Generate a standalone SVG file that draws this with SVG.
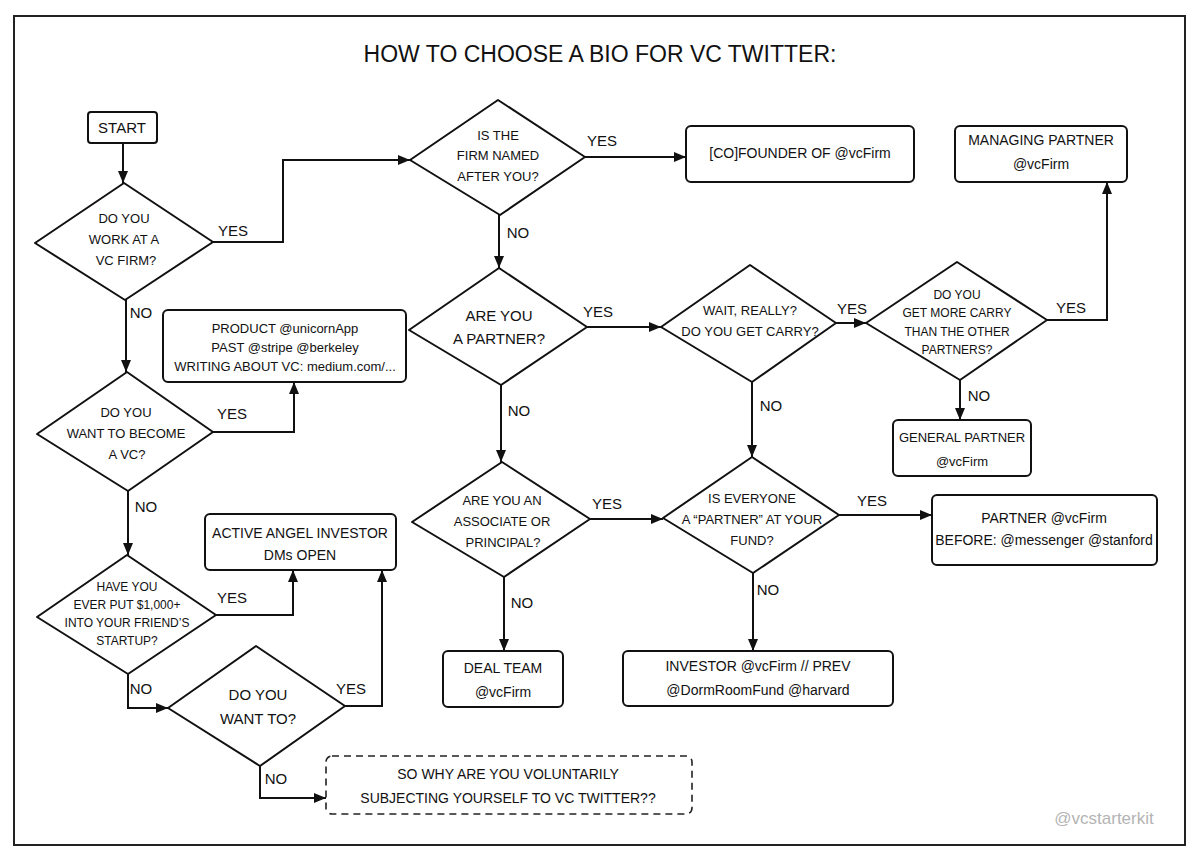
<svg xmlns="http://www.w3.org/2000/svg" width="1200" height="862" viewBox="0 0 1200 862">
<defs>
<marker id="arr" markerUnits="userSpaceOnUse" markerWidth="12" markerHeight="10" refX="12" refY="5" orient="auto">
<path d="M0,0 L12,5 L0,10 z" fill="#111"/>
</marker>
<style>
.sh{fill:#fff;stroke:#111;stroke-width:2;stroke-linejoin:round}
.dash{fill:#fff;stroke:#222;stroke-width:1.6;stroke-dasharray:7 5}
.t{font-family:"Liberation Sans",Arial,sans-serif;fill:#111;text-anchor:middle;dominant-baseline:central}
.d{font-size:13px}
.b{font-size:14px}
.l{font-size:15px}
.c{fill:none;stroke:#111;stroke-width:2;marker-end:url(#arr)}
</style>
</defs>
<rect width="1200" height="862" fill="#fff"/>
<rect x="14" y="16" width="1171" height="829" fill="none" stroke="#222" stroke-width="2"/>
<text class="t" x="600" y="54" style="font-size:23px">HOW TO CHOOSE A BIO FOR VC TWITTER:</text>

<g id="start"><rect class="sh" x="88" y="112" width="69" height="31" rx="3"/><text class="t l" x="122" y="127">START</text></g>

<g id="d1"><polygon class="sh" points="124,183 213,242 125,300 35,243"/>
<text class="t d" x="124" y="218">DO YOU</text><text class="t d" x="124" y="239">WORK AT A</text><text class="t d" x="126" y="260">VC FIRM?</text></g>

<g id="d2"><polygon class="sh" points="498,100 585,157 500,215 410,160"/>
<text class="t d" x="498" y="135">IS THE</text><text class="t d" x="498" y="155">FIRM NAMED</text><text class="t d" x="498" y="176">AFTER YOU?</text></g>

<g id="cofounder"><rect class="sh" x="686" y="126" width="228" height="56" rx="5"/><text class="t b" x="800" y="153">[CO]FOUNDER OF @vcFirm</text></g>

<g id="managing"><rect class="sh" x="955" y="126" width="172" height="56" rx="5"/><text class="t b" x="1041" y="140">MANAGING PARTNER</text><text class="t b" x="1041" y="164">@vcFirm</text></g>

<g id="d3"><polygon class="sh" points="499,268 587,327 501,385 409,330"/>
<text class="t" style="font-size:15px" x="499" y="315">ARE YOU</text><text class="t" style="font-size:15px" x="499" y="338">A PARTNER?</text></g>

<g id="d4"><polygon class="sh" points="750,265 836,323 752,382 661,327"/>
<text class="t d" x="750" y="310">WAIT, REALLY?</text><text class="t d" x="750" y="331">DO YOU GET CARRY?</text></g>

<g id="d5"><polygon class="sh" points="957,262 1047,320 960,380 866,323"/>
<text class="t" style="font-size:12px" x="957" y="295">DO YOU</text><text class="t" style="font-size:12px" x="957" y="313">GET MORE CARRY</text><text class="t" style="font-size:12px" x="957" y="332">THAN THE OTHER</text><text class="t" style="font-size:12px" x="957" y="350">PARTNERS?</text></g>

<g id="general"><rect class="sh" x="893" y="420" width="138" height="56" rx="5"/><text class="t d" x="962" y="437">GENERAL PARTNER</text><text class="t d" x="962" y="461">@vcFirm</text></g>

<g id="product"><rect class="sh" x="163" y="310" width="243" height="72" rx="5"/>
<text class="t" style="font-size:13px" x="285" y="328">PRODUCT @unicornApp</text><text class="t" style="font-size:13px" x="285" y="347">PAST @stripe @berkeley</text><text class="t" style="font-size:13px" x="285" y="366">WRITING ABOUT VC: medium.com/...</text></g>

<g id="d8"><polygon class="sh" points="127,372 213,432 128,491 37,434"/>
<text class="t d" x="126" y="412">DO YOU</text><text class="t d" x="126" y="433">WANT TO BECOME</text><text class="t d" x="127" y="454">A VC?</text></g>

<g id="d7"><polygon class="sh" points="502,462 590,519 504,577 412,522"/>
<text class="t d" x="502" y="500">ARE YOU AN</text><text class="t d" x="502" y="521">ASSOCIATE OR</text><text class="t d" x="503" y="542">PRINCIPAL?</text></g>

<g id="d6"><polygon class="sh" points="752,457 839,515 753,573 663,518"/>
<text class="t d" x="752" y="498">IS EVERYONE</text><text class="t d" x="752" y="519">A “PARTNER” AT YOUR</text><text class="t d" x="752" y="540">FUND?</text></g>

<g id="partner"><rect class="sh" x="932" y="495" width="225" height="70" rx="5"/><text class="t b" x="1044" y="518">PARTNER @vcFirm</text><text class="t b" x="1044" y="540">BEFORE: @messenger @stanford</text></g>

<g id="angel"><rect class="sh" x="205" y="514" width="191" height="56" rx="5"/><text class="t b" x="300" y="533">ACTIVE ANGEL INVESTOR</text><text class="t b" x="300" y="555">DMs OPEN</text></g>

<g id="d9"><polygon class="sh" points="127,555 216,615 128,674 37,617"/>
<text class="t" style="font-size:12px" x="127" y="587">HAVE YOU</text><text class="t" style="font-size:12px" x="127" y="605">EVER PUT $1,000+</text><text class="t" style="font-size:12px" x="127" y="623">INTO YOUR FRIEND’S</text><text class="t" style="font-size:12px" x="127" y="641">STARTUP?</text></g>

<g id="dealteam"><rect class="sh" x="443" y="651" width="120" height="56" rx="5"/><text class="t b" x="503" y="668">DEAL TEAM</text><text class="t b" x="503" y="692">@vcFirm</text></g>

<g id="investor"><rect class="sh" x="623" y="651" width="270" height="55" rx="5"/><text class="t b" x="758" y="666">INVESTOR @vcFirm // PREV</text><text class="t b" x="758" y="690">@DormRoomFund @harvard</text></g>

<g id="d10"><polygon class="sh" points="256,646 345,706 260,766 168,708"/>
<text class="t" style="font-size:15px" x="258" y="694">DO YOU</text><text class="t" style="font-size:15px" x="258" y="718">WANT TO?</text></g>

<g id="sowhy"><rect class="dash" x="326" y="756" width="366" height="58" rx="6"/><text class="t b" x="508" y="774">SO WHY ARE YOU VOLUNTARILY</text><text class="t b" x="508" y="798">SUBJECTING YOURSELF TO VC TWITTER??</text></g>

<g id="connectors">
<path class="c" d="M123,143 V183"/>
<path class="c" d="M213,242 H283 V160 H410"/>
<path class="c" d="M126,300 V372"/>
<path class="c" d="M585,157 H686"/>
<path class="c" d="M499,215 V268"/>
<path class="c" d="M587,327 H661"/>
<path class="c" d="M501,385 V462"/>
<path class="c" d="M836,323 H866"/>
<path class="c" d="M752,382 V457"/>
<path class="c" d="M1047,320 H1107 V182"/>
<path class="c" d="M960,380 V420"/>
<path class="c" d="M839,515 H932"/>
<path class="c" d="M753,573 V651"/>
<path class="c" d="M590,519 H663"/>
<path class="c" d="M504,577 V651"/>
<path class="c" d="M213,432 H294 V382"/>
<path class="c" d="M128,491 V555"/>
<path class="c" d="M216,615 H293 V570"/>
<path class="c" d="M128,674 V708 H168"/>
<path class="c" d="M345,706 H382 V570"/>
<path class="c" d="M260,766 V798 H326"/>
<g>
<text class="t l" x="233" y="230">YES</text><text class="t l" x="141" y="312">NO</text>
<text class="t l" x="602" y="140">YES</text><text class="t l" x="518" y="232">NO</text>
<text class="t l" x="598" y="311">YES</text><text class="t l" x="519" y="410">NO</text>
<text class="t l" x="852" y="308">YES</text><text class="t l" x="771" y="405">NO</text>
<text class="t l" x="1071" y="307">YES</text><text class="t l" x="979" y="395">NO</text>
<text class="t l" x="872" y="500">YES</text><text class="t l" x="768" y="589">NO</text>
<text class="t l" x="607" y="503">YES</text><text class="t l" x="522" y="602">NO</text>
<text class="t l" x="232" y="413">YES</text><text class="t l" x="146" y="506">NO</text>
<text class="t l" x="232" y="597">YES</text><text class="t l" x="141" y="688">NO</text>
<text class="t l" x="351" y="688">YES</text><text class="t l" x="276" y="778">NO</text>
</g>
</g>
<text class="t" x="1104" y="818" style="font-size:17px;fill:#b4b4b4">@vcstarterkit</text>
</svg>
